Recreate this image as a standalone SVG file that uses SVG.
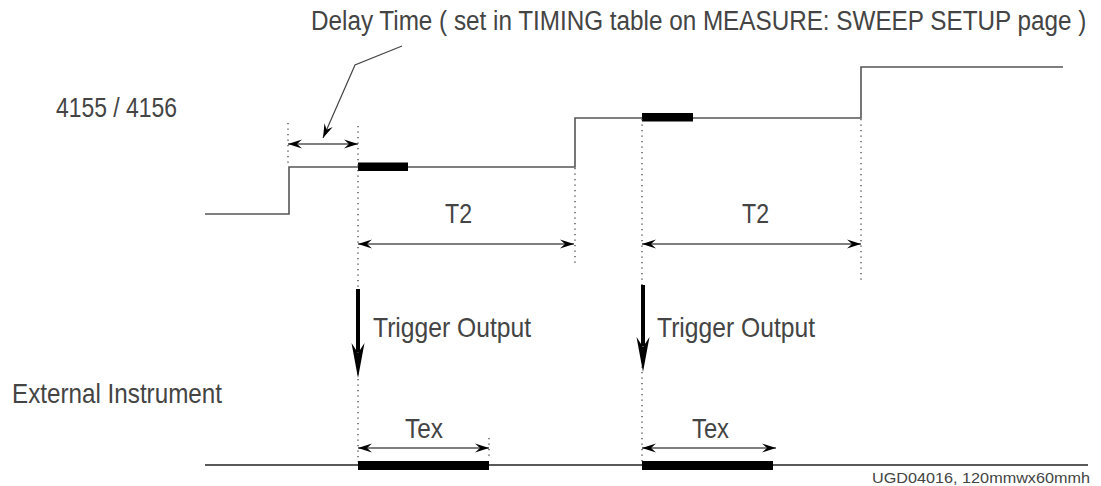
<svg xmlns="http://www.w3.org/2000/svg" width="1101" height="486" viewBox="0 0 1101 486">
<style>
.t{font-family:"Liberation Sans",Arial,sans-serif;font-size:28px;fill:#444}
.s{font-family:"Liberation Sans",Arial,sans-serif;font-size:15px;fill:#444}
.w{fill:none;stroke:#555;stroke-width:1.6}
.b{fill:none;stroke:#222;stroke-width:1.5}
.d{fill:none;stroke:#444;stroke-width:1.3;stroke-dasharray:1.3 4.2}
.a{fill:none;stroke:#555;stroke-width:1.5;marker-start:url(#ah);marker-end:url(#ah)}
.bar{fill:#000}
.ta{fill:#000}
</style>
<defs>
<marker id="ah" viewBox="-15 -6 16 12" markerWidth="16" markerHeight="12" refX="0" refY="0" orient="auto-start-reverse" markerUnits="userSpaceOnUse">
<path d="M0,0 L-14,-4.5 L-9,0 L-14,4.5 Z" fill="#000"/>
</marker>
<marker id="ah1" viewBox="-15 -6 16 12" markerWidth="16" markerHeight="12" refX="0" refY="0" orient="auto" markerUnits="userSpaceOnUse">
<path d="M0,0 L-14,-4.5 L-9,0 L-14,4.5 Z" fill="#000"/>
</marker>
</defs>

<g id="labels">
<text class="t" x="0" y="0" font-size="26" transform="translate(311,30) scale(0.867,1)">Delay Time ( set in TIMING table on MEASURE: SWEEP SETUP page )</text>
<text class="t" x="56" y="117" textLength="121" lengthAdjust="spacingAndGlyphs">4155 / 4156</text>
<text class="t" x="12" y="403" textLength="210" lengthAdjust="spacingAndGlyphs">External Instrument</text>
<text class="s" x="872" y="483" textLength="218" lengthAdjust="spacingAndGlyphs">UGD04016, 120mmwx60mmh</text>
</g>

<g id="waveform-4155">
<polyline class="w" points="205,214 289,214 289,167 575,167 575,118 861,118 861,67 1063,67"/>
<rect class="bar" x="358" y="162.5" width="50" height="8.5"/>
<rect class="bar" x="642" y="113" width="51" height="8.5"/>
</g>

<g id="waveform-external">
<line class="b" x1="205" y1="465" x2="1088" y2="465"/>
<rect class="bar" x="358" y="461" width="131" height="9"/>
<rect class="bar" x="642" y="461" width="131" height="9"/>
</g>

<g id="guides">
<line class="d" x1="288" y1="123" x2="288" y2="167"/>
<line class="d" x1="358" y1="126" x2="358" y2="462"/>
<line class="d" x1="575" y1="168" x2="575" y2="266"/>
<line class="d" x1="642" y1="119" x2="642" y2="462"/>
<line class="d" x1="861" y1="119" x2="861" y2="280"/>
<line class="d" x1="489" y1="438" x2="489" y2="460"/>
</g>

<g id="connectors">
<polyline fill="none" stroke="#444" stroke-width="1.2" points="402,46 355,65 323,138" marker-end="url(#ah1)"/>
<line class="a" x1="288" y1="144" x2="358" y2="144"/>
<line class="a" x1="358" y1="244" x2="574" y2="244"/>
<line class="a" x1="642" y1="244" x2="861" y2="244"/>
<line class="a" x1="358" y1="448" x2="489" y2="448"/>
<line class="a" x1="642" y1="448" x2="776" y2="448"/>
<line x1="358" y1="289" x2="358" y2="352" stroke="#000" stroke-width="4"/>
<path class="ta" d="M358,378 L351.5,343 L358,353 L364.5,343 Z"/>
<line x1="643" y1="285" x2="643" y2="346" stroke="#000" stroke-width="4"/>
<path class="ta" d="M643,372 L636.5,337 L643,347 L649.5,337 Z"/>
</g>

<g id="dim-labels">
<text class="t" x="445" y="223" textLength="27" lengthAdjust="spacingAndGlyphs">T2</text>
<text class="t" x="742" y="223" textLength="27" lengthAdjust="spacingAndGlyphs">T2</text>
<text class="t" x="373" y="337" textLength="158" lengthAdjust="spacingAndGlyphs">Trigger Output</text>
<text class="t" x="657" y="337" textLength="158" lengthAdjust="spacingAndGlyphs">Trigger Output</text>
<text class="t" x="405" y="438" textLength="38" lengthAdjust="spacingAndGlyphs">Tex</text>
<text class="t" x="692" y="438" textLength="37" lengthAdjust="spacingAndGlyphs">Tex</text>
</g>
</svg>
